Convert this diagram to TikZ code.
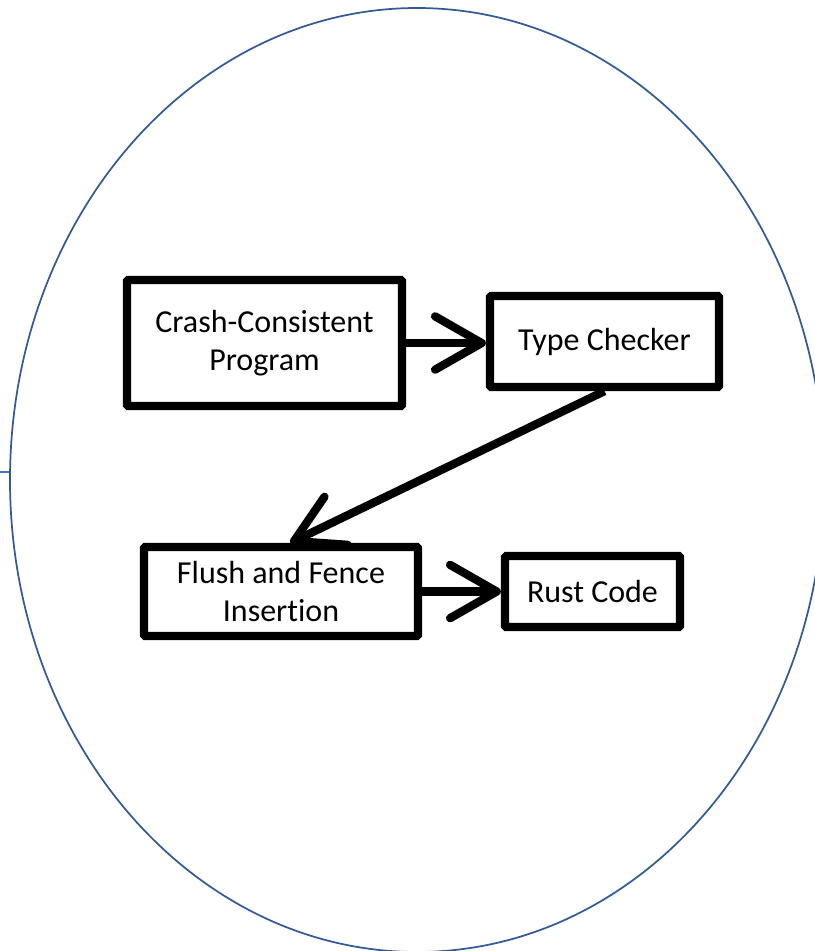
\documentclass[tikz,border=0pt]{standalone}
\usepackage{fontspec}
\setmainfont[Ligatures=NoCommon]{Carlito}
\usetikzlibrary{arrows.meta,shapes.geometric}

\definecolor{ringblue}{RGB}{52,90,150}
\definecolor{stubblue}{RGB}{68,114,196}

\tikzset{
  stage/.style={draw,line width=6.2pt,rounded corners=1pt,align=center,
    font=\fontsize{24}{29}\selectfont,inner sep=0pt},
  flow/.style={line width=6.2pt,-{Straight Barb[length=35pt,width=40pt,round]}}
}

\begin{document}
\begin{tikzpicture}[x=.75pt,y=-.75pt]
    \useasboundingbox (0,0) rectangle (815,951);
    % outer ring and the stub running into it
    \node[ellipse,draw=ringblue,line width=1.3pt,minimum width=610.5pt,
      minimum height=708pt,inner sep=0pt] (ring) at (417,480) {};
    \coordinate (stub) at (0,472);
    \draw[stubblue,line width=1.1pt] (stub) -- (stub -| ring.west);

    % stages
    \node[stage,minimum width=206.25pt,minimum height=94.5pt] (prog) at (264.5,343)
      {Crash-Consistent\\Program};
    \node[stage,minimum width=171.75pt,minimum height=68.25pt] (check) at (604.5,341.5)
      {Type Checker};
    \node[stage,minimum width=205.5pt,minimum height=66.75pt] (fence) at (281,591.5)
      {Flush and Fence\\Insertion};
    \node[stage,minimum width=131.25pt,minimum height=53.25pt] (rust) at (592.5,591.5)
      {Rust Code};

    \draw[flow] (prog.east) -- (prog.east -| check.west);
    \draw[flow] (check.south) -- ([xshift=7pt]fence.north);
    \draw[flow] (fence.east) -- (fence.east -| rust.west);
  \end{tikzpicture}
\end{document}
